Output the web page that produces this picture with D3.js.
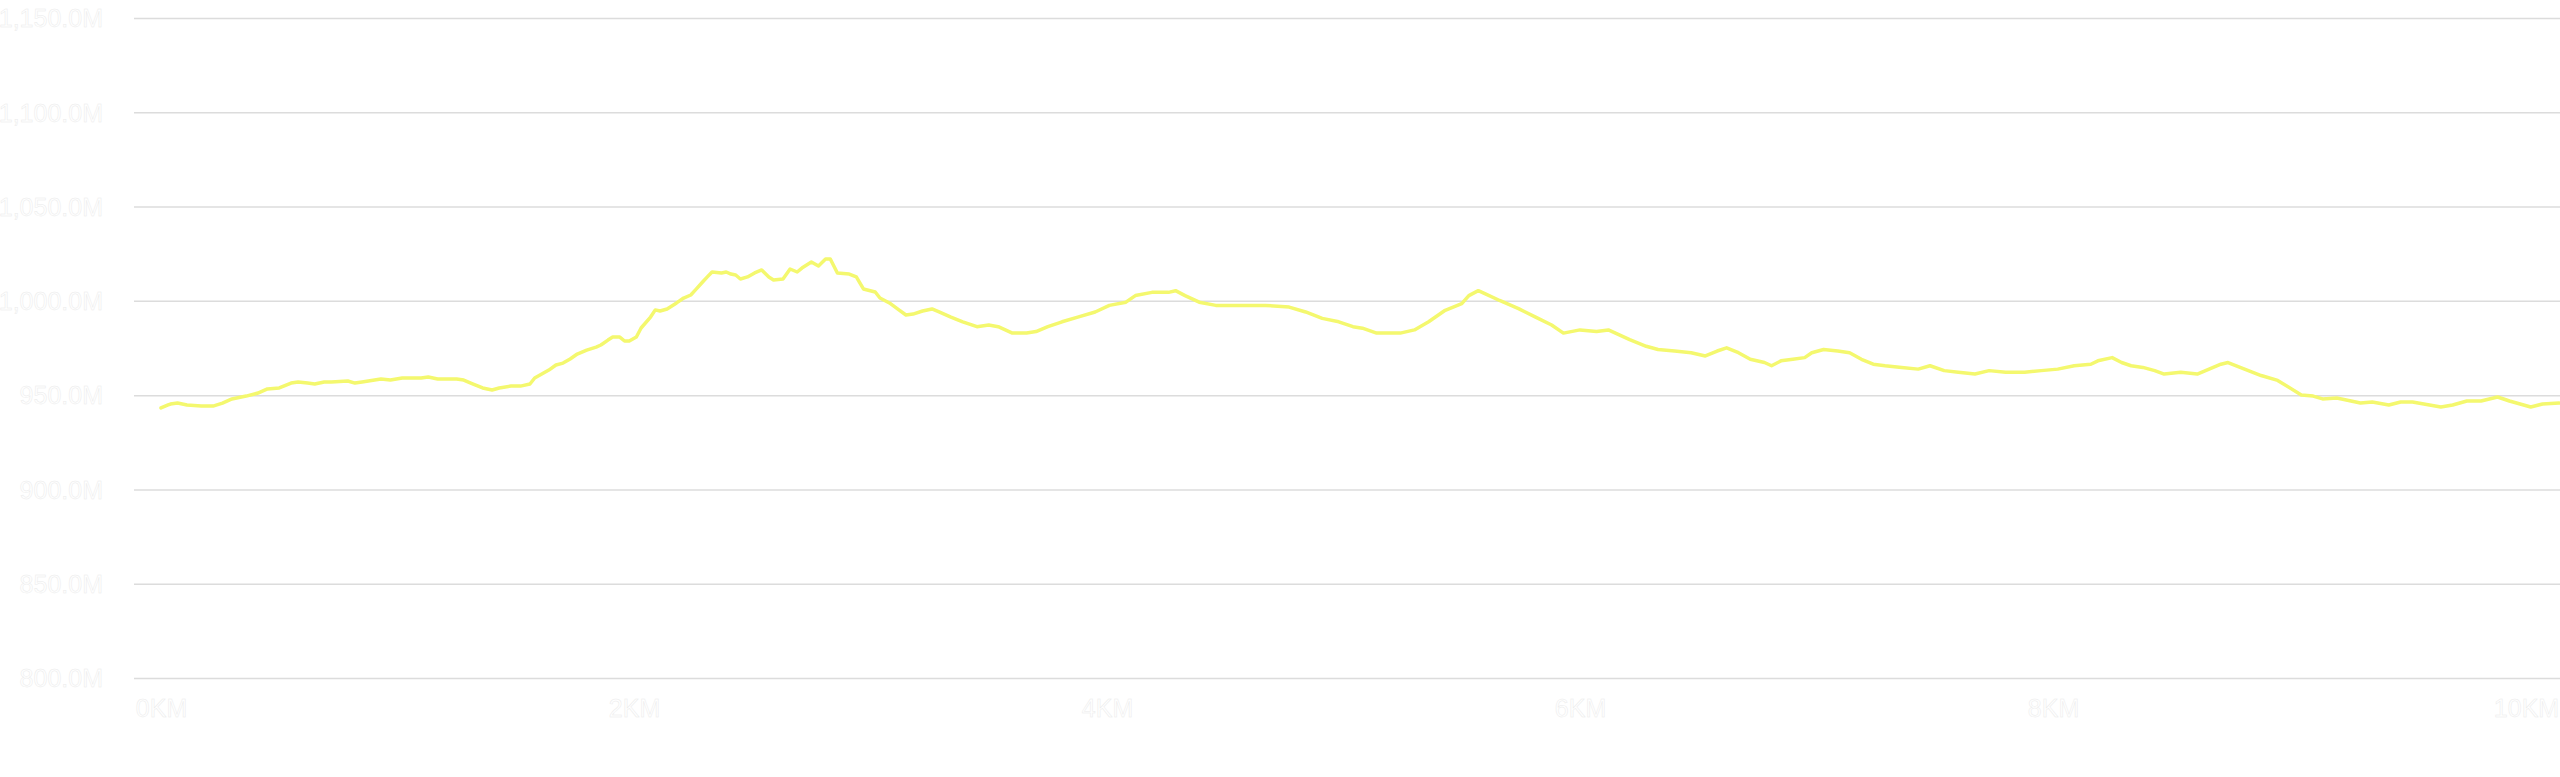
<!DOCTYPE html>
<html>
<head>
<meta charset="utf-8">
<script src="https://d3js.org/d3.v7.min.js"></script>
<style type="text/css">
body {
	margin: 0;
	background: #ffffff;
}
#chart text {
	font-family: "Liberation Sans", Arial, sans-serif;
	font-size: 25px;
	fill: #ffffff;
	stroke: #ebebeb;
	stroke-width: 0.5px;
}
</style>
</head>
<body>
<div id="chart"></div>
<script type="text/javascript">
// tick values
var yTicks = [800, 850, 900, 950, 1000, 1050, 1100, 1150];
var xTicks = [0, 2, 4, 6, 8, 10];

// distance along the route (km)
var distanceKm = [
	0.00, 0.03, 0.04, 0.07, 0.11, 0.17, 0.22, 0.26, 0.30, 0.36,
	0.41, 0.45, 0.50, 0.55, 0.58, 0.62, 0.65, 0.69, 0.72, 0.79,
	0.82, 0.85, 0.93, 0.97, 1.02, 1.10, 1.13, 1.17, 1.25, 1.28,
	1.32, 1.36, 1.40, 1.43, 1.48, 1.52, 1.56, 1.58, 1.64, 1.67,
	1.70, 1.73, 1.76, 1.80, 1.84, 1.86, 1.89, 1.91, 1.94, 1.96,
	1.98, 2.01, 2.03, 2.07, 2.09, 2.11, 2.14, 2.18, 2.21, 2.24,
	2.26, 2.29, 2.31, 2.33, 2.37, 2.39, 2.41, 2.43, 2.45, 2.48,
	2.51, 2.54, 2.57, 2.59, 2.63, 2.66, 2.69, 2.71, 2.75, 2.78,
	2.81, 2.83, 2.86, 2.91, 2.94, 2.97, 3.02, 3.04, 3.08, 3.12,
	3.15, 3.18, 3.22, 3.26, 3.29, 3.34, 3.39, 3.45, 3.50, 3.54,
	3.60, 3.66, 3.70, 3.75, 3.81, 3.88, 3.95, 4.01, 4.08, 4.12,
	4.19, 4.26, 4.29, 4.33, 4.39, 4.46, 4.57, 4.67, 4.77, 4.84,
	4.91, 4.98, 5.04, 5.08, 5.14, 5.24, 5.30, 5.36, 5.43, 5.50,
	5.53, 5.57, 5.60, 5.66, 5.74, 5.81, 5.88, 5.93, 6.00, 6.07,
	6.12, 6.15, 6.21, 6.28, 6.33, 6.40, 6.47, 6.53, 6.58, 6.62,
	6.67, 6.72, 6.78, 6.81, 6.85, 6.90, 6.95, 6.98, 7.03, 7.09,
	7.14, 7.19, 7.24, 7.29, 7.36, 7.43, 7.48, 7.54, 7.60, 7.67,
	7.73, 7.80, 7.88, 7.95, 8.02, 8.09, 8.16, 8.19, 8.25, 8.29,
	8.33, 8.38, 8.43, 8.47, 8.54, 8.61, 8.66, 8.71, 8.74, 8.81,
	8.88, 8.95, 9.05, 9.10, 9.14, 9.20, 9.30, 9.35, 9.42, 9.47,
	9.52, 9.64, 9.69, 9.75, 9.81, 9.88, 9.93, 10.02, 10.07, 10.14
];

// values (millions)
var valueM = [
	943.2, 944.8, 945.3, 945.8, 944.8, 944.2, 944.2, 945.8, 948.0, 949.5,
	951.1, 953.3, 953.8, 956.4, 957.0, 956.4, 955.9, 957.0, 957.0, 957.5,
	956.4, 957.0, 958.6, 958.0, 959.1, 959.1, 959.6, 958.6, 958.6, 958.0,
	955.9, 953.8, 952.7, 953.8, 954.8, 954.8, 955.9, 959.1, 963.3, 966.0,
	967.0, 969.2, 971.8, 973.9, 975.5, 976.6, 979.2, 980.8, 980.8, 978.7,
	978.7, 980.8, 985.6, 991.4, 995.2, 994.6, 995.7, 998.9, 1001.5, 1003.1,
	1005.8, 1010.0, 1012.7, 1015.3, 1014.8, 1015.3, 1014.2, 1013.7, 1011.6, 1012.7,
	1014.8, 1016.4, 1012.7, 1011.1, 1011.6, 1016.9, 1015.3, 1017.4, 1020.6, 1018.5,
	1022.2, 1022.2, 1014.8, 1014.2, 1012.7, 1006.3, 1004.7, 1001.5, 998.9, 995.2,
	992.5, 993.0, 994.6, 995.7, 994.1, 991.4, 988.9, 986.3, 987.2, 986.3,
	982.9, 982.9, 983.7, 986.3, 988.9, 991.5, 994.1, 997.6, 999.3, 1002.8,
	1004.5, 1004.5, 1005.4, 1002.8, 999.3, 997.6, 997.6, 997.6, 996.7, 994.1,
	990.7, 988.9, 986.3, 985.5, 982.9, 982.9, 984.6, 988.9, 995.0, 998.5,
	1002.8, 1005.4, 1003.7, 1000.2, 995.9, 991.5, 987.2, 982.9, 984.6, 983.7,
	984.6, 982.9, 979.4, 975.9, 974.2, 973.4, 972.5, 970.8, 973.4, 975.1,
	972.5, 969.0, 967.3, 965.6, 968.2, 969.0, 969.9, 972.5, 974.2, 973.4,
	972.5, 969.0, 966.4, 965.6, 964.7, 963.8, 965.6, 963.0, 962.1, 961.2,
	963.0, 962.1, 962.1, 963.0, 963.8, 965.6, 966.4, 968.2, 969.9, 967.3,
	965.6, 964.7, 963.0, 961.2, 962.1, 961.2, 963.8, 966.4, 967.3, 963.8,
	960.4, 957.8, 950.1, 949.5, 948.0, 948.5, 945.8, 946.4, 944.8, 946.4,
	946.4, 943.7, 944.8, 946.9, 946.9, 949.0, 946.9, 943.7, 945.3, 945.8
];

var width = 2560;
var height = 777;
var plotLeft = 134;
var plotTop = 18;
var plotBottom = 678;

var svg = d3.select("#chart")
	.append("svg")
	.attr("width", width)
	.attr("height", height);

var x = d3.scaleLinear()
	.domain([0, 10])
	.range([161, 2526]);

var y = d3.scaleLinear()
	.domain([800, 1150])
	.range([plotBottom, plotTop]);

var fmt = d3.format(",.1f");

var gY = svg.append("g")
	.attr("transform", "translate(" + plotLeft + ",0)")
	.call(d3.axisLeft(y)
		.tickValues(yTicks)
		.tickSize(-(width - plotLeft))
		.tickPadding(31)
		.tickFormat(function(d) { return fmt(d) + "M"; }));
gY.select(".domain").remove();
gY.selectAll(".tick line")
	.attr("stroke", "#dcdcdc")
	.attr("stroke-width", 1.5);
gY.selectAll(".tick text").attr("dy", "0.35em");

var gX = svg.append("g")
	.attr("transform", "translate(0," + plotBottom + ")")
	.call(d3.axisBottom(x)
		.tickValues(xTicks)
		.tickSize(0)
		.tickPadding(21)
		.tickFormat(function(d) { return d + "KM"; }));
gX.select(".domain").remove();

var points = distanceKm.map(function(d, i) {
	return [d, valueM[i]];
});

var line = d3.line()
	.x(function(d) { return x(d[0]); })
	.y(function(d) { return y(d[1]); });

svg.append("path")
	.datum(points)
	.attr("d", line)
	.attr("fill", "none")
	.attr("stroke", "#f4f86e")
	.attr("stroke-width", 3.5)
	.attr("stroke-linejoin", "round")
	.attr("stroke-linecap", "round");
</script>
</body>
</html>
